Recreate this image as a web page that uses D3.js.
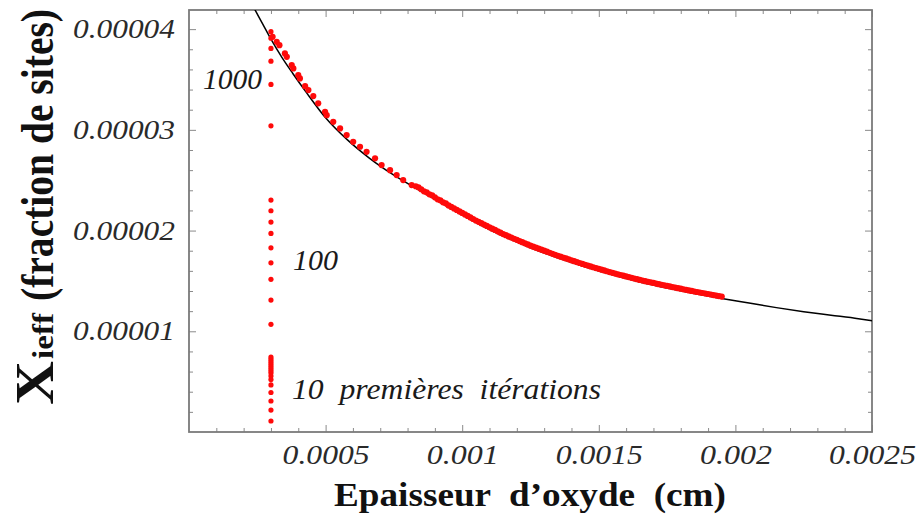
<!DOCTYPE html>
<html>
<head>
<meta charset="utf-8">
<script src="https://cdn.jsdelivr.net/npm/d3@7"></script>
<style>
  html, body { margin: 0; padding: 0; background: #fff; }
  svg { display: block; }
  text { white-space: pre; }
</style>
</head>
<body>
<svg id="chart" width="922" height="514"></svg>
<script>
// Units: thickness in 1e-5 cm, site fraction in 1e-5.
const xTicks = [50, 100, 150, 200, 250];
const xTickLabels = ["0.0005", "0.001", "0.0015", "0.002", "0.0025"];
const yTicks = [1, 2, 3, 4];
const yTickLabels = ["0.00001", "0.00002", "0.00003", "0.00004"];

// Model curve Xieff(e)
const curveX = [24, 27, 30, 34, 38, 43, 50, 58, 66, 75, 85, 95, 105, 115, 125, 135, 145, 155, 165, 175, 185, 195, 205, 215, 225, 235, 245, 250];
const curveY = [4.20, 4.05, 3.90, 3.72, 3.56, 3.37, 3.12, 2.90, 2.72, 2.55, 2.39, 2.23, 2.08, 1.945, 1.83, 1.73, 1.64, 1.56, 1.49, 1.43, 1.375, 1.325, 1.28, 1.235, 1.195, 1.16, 1.125, 1.105];

// Iterations at fixed initial thickness
const startX = 30;
const startY = [0.109, 0.218, 0.308, 0.392, 0.467, 0.521, 0.556, 0.586, 0.605, 0.625, 0.645, 0.665, 0.685, 0.705, 0.725, 0.744,
  1.069, 1.310, 1.516, 1.680, 1.829, 1.972, 2.084, 2.197, 2.303,
  3.040, 3.451, 3.682, 3.808, 3.910, 3.975];

// Iterations moving along the curve
const pathX = [30.6, 32.1, 33.1, 35.1, 35.8, 37.6, 38.2, 40.0, 40.6, 42.5, 43.7, 45.5, 47.3, 49.8, 50.4, 52.8, 55.3, 57.7, 60.1, 62.6, 65.0, 68.1, 70.5, 73.6, 76.0, 78.4, 81.5,
  83, 84, 85, 86, 87, 88, 89, 90, 91, 92, 93, 94, 95, 96, 97, 98, 99, 100,
  101, 102, 103, 104, 105, 106, 107, 108, 109, 110, 111, 112, 113, 114, 115, 116, 117, 118, 119, 120,
  121, 122, 123, 124, 125, 126, 127, 128, 129, 130, 131, 132, 133, 134, 135, 136, 137, 138, 139, 140,
  141, 142, 143, 144, 145, 146, 147, 148, 149, 150, 151, 152, 153, 154, 155, 156, 157, 158, 159, 160,
  161, 162, 163, 164, 165, 166, 167, 168, 169, 170, 171, 172, 173, 174, 175, 176, 177, 178, 179, 180,
  181, 182, 183, 184, 185, 186, 187, 188, 189, 190, 191, 192, 193, 194, 195];
const pathY = [3.924, 3.874, 3.841, 3.759, 3.725, 3.643, 3.610, 3.543, 3.511, 3.434, 3.395, 3.335, 3.263, 3.179, 3.146, 3.080, 3.014, 2.948, 2.881, 2.832, 2.782, 2.717, 2.650, 2.600, 2.551, 2.501, 2.452,
  2.44, 2.43, 2.41, 2.39, 2.38, 2.36, 2.35, 2.33, 2.31, 2.30, 2.28, 2.27, 2.25, 2.235, 2.22, 2.205, 2.19, 2.175,
  2.16, 2.145, 2.13, 2.115, 2.10, 2.087, 2.073, 2.06, 2.046, 2.033, 2.019, 2.006, 1.992, 1.979, 1.965, 1.954, 1.942, 1.931, 1.919, 1.908,
  1.896, 1.885, 1.873, 1.862, 1.85, 1.84, 1.83, 1.82, 1.81, 1.80, 1.79, 1.78, 1.77, 1.76, 1.75, 1.741, 1.732, 1.723, 1.714, 1.705,
  1.696, 1.687, 1.678, 1.669, 1.66, 1.652, 1.644, 1.636, 1.628, 1.62, 1.612, 1.604, 1.596, 1.588, 1.58, 1.573, 1.566, 1.559, 1.552, 1.545,
  1.538, 1.531, 1.524, 1.517, 1.51, 1.504, 1.498, 1.492, 1.486, 1.48, 1.474, 1.468, 1.462, 1.456, 1.45, 1.445, 1.439, 1.434, 1.428, 1.423,
  1.417, 1.412, 1.406, 1.401, 1.395, 1.39, 1.385, 1.38, 1.375, 1.37, 1.365, 1.36, 1.355, 1.35, 1.345];

const svg = d3.select("#chart");
const L = 189, R = 872, T = 10, B = 432;
const x = d3.scaleLinear().domain([0, 250]).range([L, R]);
const y = d3.scaleLinear().domain([0, 4.19]).range([B, T]);

svg.append("defs").append("clipPath").attr("id", "plotClip")
  .append("rect").attr("x", L).attr("y", T).attr("width", R - L).attr("height", B - T);

const serif = "'Liberation Serif', 'Times New Roman', serif";
const tickCol = "#8a8a8a";

// Inward tick marks on all four sides
const xMinor = d3.range(10, 250, 10).filter(v => v % 50 !== 0);
const yMinor = d3.range(0.2, 4.19, 0.2).filter(v => Math.abs(v - Math.round(v)) > 1e-6);
function tickAxis(axisFn, scale, vals, size, tx, ty) {
  const g = svg.append("g").attr("transform", `translate(${tx},${ty})`)
    .call(axisFn(scale).tickValues(vals).tickSize(-size).tickFormat(""));
  g.select(".domain").remove();
  g.selectAll("line").attr("stroke", tickCol).attr("stroke-width", 1);
}
tickAxis(d3.axisBottom, x, xTicks, 7, 0, B);
tickAxis(d3.axisBottom, x, xMinor, 4, 0, B);
tickAxis(d3.axisTop, x, xTicks, 7, 0, T);
tickAxis(d3.axisTop, x, xMinor, 4, 0, T);
tickAxis(d3.axisLeft, y, yTicks, 7, L, 0);
tickAxis(d3.axisLeft, y, yMinor, 4, L, 0);
tickAxis(d3.axisRight, y, yTicks, 7, R, 0);
tickAxis(d3.axisRight, y, yMinor, 4, R, 0);

// Frame
svg.append("rect").attr("x", L).attr("y", T).attr("width", R - L).attr("height", B - T)
  .attr("fill", "none").attr("stroke", "#7a7a7a").attr("stroke-width", 1.8);

// Tick labels
const xLab = svg.append("g").attr("transform", `translate(0,${B})`)
  .call(d3.axisBottom(x).tickValues(xTicks).tickSize(0).tickPadding(13)
    .tickFormat((d, i) => xTickLabels[i]));
xLab.select(".domain").remove();
xLab.selectAll("text")
  .style("font-family", serif).style("font-style", "italic").style("font-size", "27px")
  .attr("fill", "#2a2a2a")
  .attr("textLength", (d, i) => [87, 72, 87, 72, 87][i])
  .attr("lengthAdjust", "spacingAndGlyphs");

const yLab = svg.append("g").attr("transform", `translate(${L},0)`)
  .call(d3.axisLeft(y).tickValues(yTicks).tickSize(0).tickPadding(14)
    .tickFormat((d, i) => yTickLabels[i]));
yLab.select(".domain").remove();
yLab.selectAll("text")
  .style("font-family", serif).style("font-style", "italic").style("font-size", "27px")
  .attr("fill", "#2a2a2a")
  .attr("textLength", 102).attr("lengthAdjust", "spacingAndGlyphs");

// Model curve
const line = d3.line().x((d, i) => x(curveX[i])).y((d, i) => y(curveY[i])).curve(d3.curveMonotoneX);
svg.append("path").datum(curveX).attr("clip-path", "url(#plotClip)")
  .attr("d", line).attr("fill", "none").attr("stroke", "#000").attr("stroke-width", 1.5);

// Iteration points
const dotCol = "#ff0a0a";
svg.append("g").selectAll("circle").data(startY).join("circle")
  .attr("cx", x(startX)).attr("cy", d => y(d)).attr("r", 2.6).attr("fill", dotCol);
svg.append("g").selectAll("circle").data(pathX).join("circle")
  .attr("cx", d => x(d)).attr("cy", (d, i) => y(pathY[i])).attr("r", 3.1).attr("fill", dotCol);

// Annotations
function note(txt, px, py, len) {
  svg.append("text").attr("x", px).attr("y", py).text(txt)
    .style("font-family", serif).style("font-style", "italic").style("font-size", "30px")
    .attr("fill", "#1a1a1a").attr("textLength", len).attr("lengthAdjust", "spacingAndGlyphs");
}
note("1000", 203, 89, 59);
note("100", 293, 270, 45);
note("10  premières  itérations", 292, 399, 309);

// Axis titles
svg.append("text").attr("x", 334).attr("y", 506).text("Epaisseur  d\u2019oxyde  (cm)")
  .style("font-family", serif).style("font-weight", "bold").style("font-size", "34px")
  .attr("fill", "#111").attr("textLength", 392).attr("lengthAdjust", "spacingAndGlyphs");

// Vertical title, slightly widened across its baseline
const yt = svg.append("g").attr("transform", "translate(53,405) rotate(-90) scale(1,1.15)");
yt.append("text").attr("x", 0).attr("y", 0).text("X")
  .style("font-family", serif).style("font-weight", "bold").style("font-size", "48px")
  .attr("fill", "#111").attr("textLength", 44).attr("lengthAdjust", "spacingAndGlyphs");
yt.append("text").attr("x", 46).attr("y", 0).text("ieff")
  .style("font-family", serif).style("font-weight", "bold").style("font-size", "26px")
  .attr("fill", "#111").attr("textLength", 46).attr("lengthAdjust", "spacingAndGlyphs");
yt.append("text").attr("x", 104).attr("y", 0).text("(fraction de sites)")
  .style("font-family", serif).style("font-weight", "bold").style("font-size", "40px")
  .attr("fill", "#111").attr("textLength", 292).attr("lengthAdjust", "spacingAndGlyphs");
</script>
</body>
</html>
